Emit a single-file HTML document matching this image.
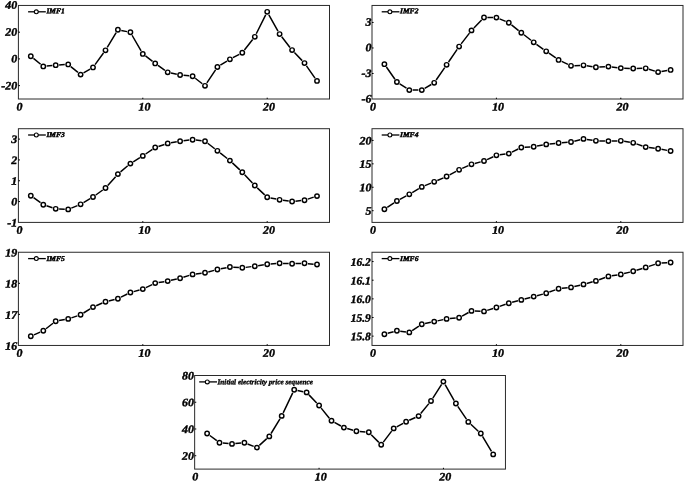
<!DOCTYPE html>
<html lang="en"><head><meta charset="utf-8"><title>IMF decomposition</title>
<style>html,body{margin:0;padding:0;background:#fff}svg{display:block}text{font-family:"Liberation Serif","DejaVu Serif",serif;font-weight:bold;font-style:italic;fill:#000;stroke:#000;stroke-width:.4px}.t{font-size:11.5px}.l{font-size:7.4px;stroke-width:.45px}.ax{fill:none;stroke:#2a2a2a;stroke-width:1}.tk{stroke:#000;stroke-width:1}.ln{fill:none;stroke:#000;stroke-width:1.5;stroke-linejoin:round}.mk{fill:#fff;stroke:#000;stroke-width:1.45}.lb{font-size:7.3px;stroke-width:.35px}.ll{stroke-width:1.3}.lm{stroke-width:1.1}</style></head><body>
<svg width="685" height="482" viewBox="0 0 685 482">
<rect width="685" height="482" fill="#fff"/>
<g>
<rect class="ax" x="18.40" y="5.45" width="311.10" height="93.55"/>
<text class="t" text-anchor="middle" transform="translate(19.40,110.40) rotate(0.03) scale(1.04,1)">0</text>
<line class="tk" x1="142.80" y1="99.00" x2="142.80" y2="97.70"/>
<text class="t" text-anchor="middle" transform="translate(144.50,110.40) rotate(0.03) scale(1.04,1)">10</text>
<line class="tk" x1="267.20" y1="99.00" x2="267.20" y2="97.70"/>
<text class="t" text-anchor="middle" transform="translate(268.90,110.40) rotate(0.03) scale(1.04,1)">20</text>
<text class="t" text-anchor="end" transform="translate(17.20,8.65) rotate(0.03) scale(1.04,1)">40</text>
<line class="tk" x1="18.40" y1="32.18" x2="20.00" y2="32.18"/>
<text class="t" text-anchor="end" transform="translate(17.20,35.64) rotate(0.03) scale(1.04,1)">20</text>
<line class="tk" x1="18.40" y1="58.91" x2="20.00" y2="58.91"/>
<text class="t" text-anchor="end" transform="translate(17.20,62.62) rotate(0.03) scale(1.04,1)">0</text>
<line class="tk" x1="18.40" y1="85.64" x2="20.00" y2="85.64"/>
<text class="t" text-anchor="end" transform="translate(17.20,89.61) rotate(0.03) scale(1.04,1)">-20</text>
<path class="ln" d="M33.47 58.36L40.65 64.24M46.66 66.07L52.34 65.53M59.11 64.98L64.77 64.62M70.79 66.56L77.97 72.44M83.54 72.90L90.10 69.10M95.04 64.65L103.48 53.05M107.24 47.39L116.16 32.71M121.25 30.47L127.03 31.63M132.06 35.25L141.10 50.95M145.50 55.96L152.54 61.34M158.01 65.38L164.91 70.32M171.00 73.02L176.80 74.28M183.50 75.33L189.18 75.87M195.25 78.28L202.31 83.72M206.88 82.96L215.56 69.84M220.33 65.21L226.99 61.09M232.88 57.71L239.32 54.29M244.42 50.02L252.66 39.48M256.27 33.76L265.69 14.84M268.86 14.77L277.98 31.13M281.73 36.78L289.99 47.42M294.43 52.56L302.17 60.64M306.47 65.89L315.01 78.11"/>
<circle class="mk" cx="30.8" cy="56.2" r="2.2"/>
<circle class="mk" cx="43.3" cy="66.4" r="2.2"/>
<circle class="mk" cx="55.7" cy="65.2" r="2.2"/>
<circle class="mk" cx="68.2" cy="64.4" r="2.2"/>
<circle class="mk" cx="80.6" cy="74.6" r="2.2"/>
<circle class="mk" cx="93.0" cy="67.4" r="2.2"/>
<circle class="mk" cx="105.5" cy="50.3" r="2.2"/>
<circle class="mk" cx="117.9" cy="29.8" r="2.2"/>
<circle class="mk" cx="130.4" cy="32.3" r="2.2"/>
<circle class="mk" cx="142.8" cy="53.9" r="2.2"/>
<circle class="mk" cx="155.2" cy="63.4" r="2.2"/>
<circle class="mk" cx="167.7" cy="72.3" r="2.2"/>
<circle class="mk" cx="180.1" cy="75.0" r="2.2"/>
<circle class="mk" cx="192.6" cy="76.2" r="2.2"/>
<circle class="mk" cx="205.0" cy="85.8" r="2.2"/>
<circle class="mk" cx="217.4" cy="67.0" r="2.2"/>
<circle class="mk" cx="229.9" cy="59.3" r="2.2"/>
<circle class="mk" cx="242.3" cy="52.7" r="2.2"/>
<circle class="mk" cx="254.8" cy="36.8" r="2.2"/>
<circle class="mk" cx="267.2" cy="11.8" r="2.2"/>
<circle class="mk" cx="279.6" cy="34.1" r="2.2"/>
<circle class="mk" cx="292.1" cy="50.1" r="2.2"/>
<circle class="mk" cx="304.5" cy="63.1" r="2.2"/>
<circle class="mk" cx="317.0" cy="80.9" r="2.2"/>
<line class="ln ll" x1="28.1" y1="11.8" x2="45.8" y2="11.8"/>
<circle class="mk lm" cx="36.3" cy="11.8" r="1.95"/>
<text class="l" transform="translate(46.4,13.2) rotate(0.03)" textLength="18.4" lengthAdjust="spacingAndGlyphs">IMF1</text>
</g>
<g>
<rect class="ax" x="372.00" y="5.45" width="311.00" height="93.55"/>
<text class="t" text-anchor="middle" transform="translate(373.00,110.40) rotate(0.03) scale(1.04,1)">0</text>
<line class="tk" x1="496.40" y1="99.00" x2="496.40" y2="97.70"/>
<text class="t" text-anchor="middle" transform="translate(498.10,110.40) rotate(0.03) scale(1.04,1)">10</text>
<line class="tk" x1="620.80" y1="99.00" x2="620.80" y2="97.70"/>
<text class="t" text-anchor="middle" transform="translate(622.50,110.40) rotate(0.03) scale(1.04,1)">20</text>
<line class="tk" x1="372.00" y1="22.46" x2="373.60" y2="22.46"/>
<text class="t" text-anchor="end" transform="translate(371.50,25.65) rotate(0.03) scale(1.04,1)">3</text>
<line class="tk" x1="372.00" y1="47.97" x2="373.60" y2="47.97"/>
<text class="t" text-anchor="end" transform="translate(371.50,51.30) rotate(0.03) scale(1.04,1)">0</text>
<line class="tk" x1="372.00" y1="73.49" x2="373.60" y2="73.49"/>
<text class="t" text-anchor="end" transform="translate(371.50,76.95) rotate(0.03) scale(1.04,1)">-3</text>
<text class="t" text-anchor="end" transform="translate(371.50,102.60) rotate(0.03) scale(1.04,1)">-6</text>
<path class="ln" d="M386.39 66.99L394.93 79.21M399.73 83.86L406.47 88.24M412.72 90.10L418.36 90.10M424.69 88.38L431.27 84.52M436.13 80.00L444.71 67.60M448.56 61.99L457.16 49.41M461.15 43.90L469.45 33.10M473.88 27.95L481.60 19.95M487.36 17.53L493.00 17.57M499.55 18.89L505.69 21.41M511.49 24.83L518.63 30.57M523.97 34.78L531.03 40.22M536.47 44.29L543.41 49.31M548.96 53.23L555.80 57.97M561.67 61.36L567.97 64.34M574.44 65.66L580.08 65.44M586.84 65.81L592.56 66.69M599.32 67.04L604.96 66.76M611.74 67.01L617.42 67.69M624.20 68.21L629.84 68.39M636.64 68.45L642.28 68.35M648.93 69.29L654.87 71.11M661.47 71.51L667.21 70.49"/>
<circle class="mk" cx="384.4" cy="64.2" r="2.2"/>
<circle class="mk" cx="396.9" cy="82.0" r="2.2"/>
<circle class="mk" cx="409.3" cy="90.1" r="2.2"/>
<circle class="mk" cx="421.8" cy="90.1" r="2.2"/>
<circle class="mk" cx="434.2" cy="82.8" r="2.2"/>
<circle class="mk" cx="446.6" cy="64.8" r="2.2"/>
<circle class="mk" cx="459.1" cy="46.6" r="2.2"/>
<circle class="mk" cx="471.5" cy="30.4" r="2.2"/>
<circle class="mk" cx="484.0" cy="17.5" r="2.2"/>
<circle class="mk" cx="496.4" cy="17.6" r="2.2"/>
<circle class="mk" cx="508.8" cy="22.7" r="2.2"/>
<circle class="mk" cx="521.3" cy="32.7" r="2.2"/>
<circle class="mk" cx="533.7" cy="42.3" r="2.2"/>
<circle class="mk" cx="546.2" cy="51.3" r="2.2"/>
<circle class="mk" cx="558.6" cy="59.9" r="2.2"/>
<circle class="mk" cx="571.0" cy="65.8" r="2.2"/>
<circle class="mk" cx="583.5" cy="65.3" r="2.2"/>
<circle class="mk" cx="595.9" cy="67.2" r="2.2"/>
<circle class="mk" cx="608.4" cy="66.6" r="2.2"/>
<circle class="mk" cx="620.8" cy="68.1" r="2.2"/>
<circle class="mk" cx="633.2" cy="68.5" r="2.2"/>
<circle class="mk" cx="645.7" cy="68.3" r="2.2"/>
<circle class="mk" cx="658.1" cy="72.1" r="2.2"/>
<circle class="mk" cx="670.6" cy="69.9" r="2.2"/>
<line class="ln ll" x1="381.7" y1="11.8" x2="399.4" y2="11.8"/>
<circle class="mk lm" cx="389.9" cy="11.8" r="1.95"/>
<text class="l" transform="translate(400.0,13.2) rotate(0.03)" textLength="18.4" lengthAdjust="spacingAndGlyphs">IMF2</text>
</g>
<g>
<rect class="ax" x="18.40" y="128.70" width="311.10" height="93.70"/>
<text class="t" text-anchor="middle" transform="translate(19.40,233.80) rotate(0.03) scale(1.04,1)">0</text>
<line class="tk" x1="142.80" y1="222.40" x2="142.80" y2="221.10"/>
<text class="t" text-anchor="middle" transform="translate(144.50,233.80) rotate(0.03) scale(1.04,1)">10</text>
<line class="tk" x1="267.20" y1="222.40" x2="267.20" y2="221.10"/>
<text class="t" text-anchor="middle" transform="translate(268.90,233.80) rotate(0.03) scale(1.04,1)">20</text>
<line class="tk" x1="18.40" y1="139.11" x2="20.00" y2="139.11"/>
<text class="t" text-anchor="end" transform="translate(17.20,143.11) rotate(0.03) scale(1.04,1)">3</text>
<line class="tk" x1="18.40" y1="159.93" x2="20.00" y2="159.93"/>
<text class="t" text-anchor="end" transform="translate(17.20,163.93) rotate(0.03) scale(1.04,1)">2</text>
<line class="tk" x1="18.40" y1="180.76" x2="20.00" y2="180.76"/>
<text class="t" text-anchor="end" transform="translate(17.20,184.76) rotate(0.03) scale(1.04,1)">1</text>
<line class="tk" x1="18.40" y1="201.58" x2="20.00" y2="201.58"/>
<text class="t" text-anchor="end" transform="translate(17.20,205.58) rotate(0.03) scale(1.04,1)">0</text>
<text class="t" text-anchor="end" transform="translate(17.20,226.40) rotate(0.03) scale(1.04,1)">-1</text>
<path class="ln" d="M33.59 197.69L40.53 202.71M46.51 205.76L52.49 207.74M59.12 208.96L64.76 209.24M71.31 208.11L77.45 205.59M83.53 202.58L90.11 198.72M95.79 195.01L102.73 189.99M107.75 185.47L115.65 176.63M120.52 171.91L127.76 165.79M133.25 161.81L139.91 157.69M145.62 154.00L152.42 149.40M158.47 146.44L164.45 144.46M171.03 142.81L176.77 141.79M183.50 140.79L189.18 140.11M195.94 140.11L201.62 140.79M207.69 143.28L214.75 148.72M220.11 152.90L227.21 158.50M232.37 162.92L239.83 169.88M244.64 174.68L252.44 183.02M257.24 187.83L264.72 194.87M270.53 197.90L276.31 199.10M283.01 200.26L288.71 201.04M295.46 201.15L301.14 200.55M307.75 199.14L313.73 197.16"/>
<circle class="mk" cx="30.8" cy="195.7" r="2.2"/>
<circle class="mk" cx="43.3" cy="204.7" r="2.2"/>
<circle class="mk" cx="55.7" cy="208.8" r="2.2"/>
<circle class="mk" cx="68.2" cy="209.4" r="2.2"/>
<circle class="mk" cx="80.6" cy="204.3" r="2.2"/>
<circle class="mk" cx="93.0" cy="197.0" r="2.2"/>
<circle class="mk" cx="105.5" cy="188.0" r="2.2"/>
<circle class="mk" cx="117.9" cy="174.1" r="2.2"/>
<circle class="mk" cx="130.4" cy="163.6" r="2.2"/>
<circle class="mk" cx="142.8" cy="155.9" r="2.2"/>
<circle class="mk" cx="155.2" cy="147.5" r="2.2"/>
<circle class="mk" cx="167.7" cy="143.4" r="2.2"/>
<circle class="mk" cx="180.1" cy="141.2" r="2.2"/>
<circle class="mk" cx="192.6" cy="139.7" r="2.2"/>
<circle class="mk" cx="205.0" cy="141.2" r="2.2"/>
<circle class="mk" cx="217.4" cy="150.8" r="2.2"/>
<circle class="mk" cx="229.9" cy="160.6" r="2.2"/>
<circle class="mk" cx="242.3" cy="172.2" r="2.2"/>
<circle class="mk" cx="254.8" cy="185.5" r="2.2"/>
<circle class="mk" cx="267.2" cy="197.2" r="2.2"/>
<circle class="mk" cx="279.6" cy="199.8" r="2.2"/>
<circle class="mk" cx="292.1" cy="201.5" r="2.2"/>
<circle class="mk" cx="304.5" cy="200.2" r="2.2"/>
<circle class="mk" cx="317.0" cy="196.1" r="2.2"/>
<line class="ln ll" x1="28.1" y1="135.0" x2="45.8" y2="135.0"/>
<circle class="mk lm" cx="36.3" cy="135.0" r="1.95"/>
<text class="l" transform="translate(46.4,137.1) rotate(0.03)" textLength="18.4" lengthAdjust="spacingAndGlyphs">IMF3</text>
</g>
<g>
<rect class="ax" x="372.00" y="128.70" width="311.00" height="93.70"/>
<text class="t" text-anchor="middle" transform="translate(373.00,233.80) rotate(0.03) scale(1.04,1)">0</text>
<line class="tk" x1="496.40" y1="222.40" x2="496.40" y2="221.10"/>
<text class="t" text-anchor="middle" transform="translate(498.10,233.80) rotate(0.03) scale(1.04,1)">10</text>
<line class="tk" x1="620.80" y1="222.40" x2="620.80" y2="221.10"/>
<text class="t" text-anchor="middle" transform="translate(622.50,233.80) rotate(0.03) scale(1.04,1)">20</text>
<line class="tk" x1="372.00" y1="140.41" x2="373.60" y2="140.41"/>
<text class="t" text-anchor="end" transform="translate(371.50,144.41) rotate(0.03) scale(1.04,1)">20</text>
<line class="tk" x1="372.00" y1="163.84" x2="373.60" y2="163.84"/>
<text class="t" text-anchor="end" transform="translate(371.50,167.84) rotate(0.03) scale(1.04,1)">15</text>
<line class="tk" x1="372.00" y1="187.26" x2="373.60" y2="187.26"/>
<text class="t" text-anchor="end" transform="translate(371.50,191.26) rotate(0.03) scale(1.04,1)">10</text>
<line class="tk" x1="372.00" y1="210.69" x2="373.60" y2="210.69"/>
<text class="t" text-anchor="end" transform="translate(371.50,214.69) rotate(0.03) scale(1.04,1)">5</text>
<path class="ln" d="M387.28 207.33L394.04 202.87M399.87 199.39L406.33 195.91M412.24 192.56L418.84 188.64M424.91 185.61L431.05 183.09M437.33 180.47L443.51 177.83M449.63 174.89L456.09 171.41M462.19 168.43L468.41 165.67M474.81 163.43L480.67 161.87M487.05 159.58L493.31 156.72M499.77 154.84L505.47 154.06M511.89 152.10L518.23 149.00M524.67 147.28L530.33 146.92M537.06 146.08L542.82 145.02M549.54 144.02L555.22 143.38M561.99 142.73L567.65 142.27M574.34 141.18L580.18 139.72M586.84 139.41L592.56 140.29M599.32 140.88L604.96 141.02M611.76 141.02L617.40 140.88M624.16 141.34L629.88 142.26M636.45 143.91L642.47 145.99M649.05 147.53L654.75 148.27M661.46 149.32L667.22 150.38"/>
<circle class="mk" cx="384.4" cy="209.2" r="2.2"/>
<circle class="mk" cx="396.9" cy="201.0" r="2.2"/>
<circle class="mk" cx="409.3" cy="194.3" r="2.2"/>
<circle class="mk" cx="421.8" cy="186.9" r="2.2"/>
<circle class="mk" cx="434.2" cy="181.8" r="2.2"/>
<circle class="mk" cx="446.6" cy="176.5" r="2.2"/>
<circle class="mk" cx="459.1" cy="169.8" r="2.2"/>
<circle class="mk" cx="471.5" cy="164.3" r="2.2"/>
<circle class="mk" cx="484.0" cy="161.0" r="2.2"/>
<circle class="mk" cx="496.4" cy="155.3" r="2.2"/>
<circle class="mk" cx="508.8" cy="153.6" r="2.2"/>
<circle class="mk" cx="521.3" cy="147.5" r="2.2"/>
<circle class="mk" cx="533.7" cy="146.7" r="2.2"/>
<circle class="mk" cx="546.2" cy="144.4" r="2.2"/>
<circle class="mk" cx="558.6" cy="143.0" r="2.2"/>
<circle class="mk" cx="571.0" cy="142.0" r="2.2"/>
<circle class="mk" cx="583.5" cy="138.9" r="2.2"/>
<circle class="mk" cx="595.9" cy="140.8" r="2.2"/>
<circle class="mk" cx="608.4" cy="141.1" r="2.2"/>
<circle class="mk" cx="620.8" cy="140.8" r="2.2"/>
<circle class="mk" cx="633.2" cy="142.8" r="2.2"/>
<circle class="mk" cx="645.7" cy="147.1" r="2.2"/>
<circle class="mk" cx="658.1" cy="148.7" r="2.2"/>
<circle class="mk" cx="670.6" cy="151.0" r="2.2"/>
<line class="ln ll" x1="381.7" y1="135.0" x2="399.4" y2="135.0"/>
<circle class="mk lm" cx="389.9" cy="135.0" r="1.95"/>
<text class="l" transform="translate(400.0,137.1) rotate(0.03)" textLength="18.4" lengthAdjust="spacingAndGlyphs">IMF4</text>
</g>
<g>
<rect class="ax" x="18.40" y="252.25" width="311.10" height="93.20"/>
<text class="t" text-anchor="middle" transform="translate(19.40,356.85) rotate(0.03) scale(1.04,1)">0</text>
<line class="tk" x1="142.80" y1="345.45" x2="142.80" y2="344.15"/>
<text class="t" text-anchor="middle" transform="translate(144.50,356.85) rotate(0.03) scale(1.04,1)">10</text>
<line class="tk" x1="267.20" y1="345.45" x2="267.20" y2="344.15"/>
<text class="t" text-anchor="middle" transform="translate(268.90,356.85) rotate(0.03) scale(1.04,1)">20</text>
<text class="t" text-anchor="end" transform="translate(17.10,256.55) rotate(0.03) scale(1.04,1)">19</text>
<line class="tk" x1="18.40" y1="283.32" x2="20.00" y2="283.32"/>
<text class="t" text-anchor="end" transform="translate(17.10,287.62) rotate(0.03) scale(1.04,1)">18</text>
<line class="tk" x1="18.40" y1="314.38" x2="20.00" y2="314.38"/>
<text class="t" text-anchor="end" transform="translate(17.10,318.68) rotate(0.03) scale(1.04,1)">17</text>
<text class="t" text-anchor="end" transform="translate(17.10,349.75) rotate(0.03) scale(1.04,1)">16</text>
<path class="ln" d="M33.95 334.93L40.17 332.17M45.97 328.72L53.03 323.28M59.06 320.58L64.82 319.52M71.39 317.84L77.37 315.86M83.49 313.01L90.15 308.89M96.16 305.75L102.36 303.05M108.79 300.90L114.61 299.50M120.96 297.18L127.32 294.02M133.64 291.60L139.52 290.00M145.86 287.62L152.18 284.58M158.60 282.56L164.32 281.64M170.99 280.33L176.81 278.97M183.37 277.21L189.31 275.39M195.93 273.97L201.63 273.23M208.29 271.93L214.15 270.37M220.77 268.83L226.55 267.67M233.27 267.22L238.93 267.58M245.69 267.37L251.39 266.63M258.12 265.69L263.84 264.81M270.59 264.03L276.25 263.57M283.04 263.41L288.68 263.59M295.48 263.59L301.12 263.41M307.90 263.63L313.58 264.17"/>
<circle class="mk" cx="30.8" cy="336.3" r="2.2"/>
<circle class="mk" cx="43.3" cy="330.8" r="2.2"/>
<circle class="mk" cx="55.7" cy="321.2" r="2.2"/>
<circle class="mk" cx="68.2" cy="318.9" r="2.2"/>
<circle class="mk" cx="80.6" cy="314.8" r="2.2"/>
<circle class="mk" cx="93.0" cy="307.1" r="2.2"/>
<circle class="mk" cx="105.5" cy="301.7" r="2.2"/>
<circle class="mk" cx="117.9" cy="298.7" r="2.2"/>
<circle class="mk" cx="130.4" cy="292.5" r="2.2"/>
<circle class="mk" cx="142.8" cy="289.1" r="2.2"/>
<circle class="mk" cx="155.2" cy="283.1" r="2.2"/>
<circle class="mk" cx="167.7" cy="281.1" r="2.2"/>
<circle class="mk" cx="180.1" cy="278.2" r="2.2"/>
<circle class="mk" cx="192.6" cy="274.4" r="2.2"/>
<circle class="mk" cx="205.0" cy="272.8" r="2.2"/>
<circle class="mk" cx="217.4" cy="269.5" r="2.2"/>
<circle class="mk" cx="229.9" cy="267.0" r="2.2"/>
<circle class="mk" cx="242.3" cy="267.8" r="2.2"/>
<circle class="mk" cx="254.8" cy="266.2" r="2.2"/>
<circle class="mk" cx="267.2" cy="264.3" r="2.2"/>
<circle class="mk" cx="279.6" cy="263.3" r="2.2"/>
<circle class="mk" cx="292.1" cy="263.7" r="2.2"/>
<circle class="mk" cx="304.5" cy="263.3" r="2.2"/>
<circle class="mk" cx="317.0" cy="264.5" r="2.2"/>
<line class="ln ll" x1="28.1" y1="258.6" x2="45.8" y2="258.6"/>
<circle class="mk lm" cx="36.3" cy="258.6" r="1.95"/>
<text class="l" transform="translate(46.4,260.9) rotate(0.03)" textLength="18.4" lengthAdjust="spacingAndGlyphs">IMF5</text>
</g>
<g>
<rect class="ax" x="372.00" y="252.25" width="311.00" height="93.20"/>
<text class="t" text-anchor="middle" transform="translate(373.00,356.85) rotate(0.03) scale(1.04,1)">0</text>
<line class="tk" x1="496.40" y1="345.45" x2="496.40" y2="344.15"/>
<text class="t" text-anchor="middle" transform="translate(498.10,356.85) rotate(0.03) scale(1.04,1)">10</text>
<line class="tk" x1="620.80" y1="345.45" x2="620.80" y2="344.15"/>
<text class="t" text-anchor="middle" transform="translate(622.50,356.85) rotate(0.03) scale(1.04,1)">20</text>
<line class="tk" x1="372.00" y1="261.57" x2="373.60" y2="261.57"/>
<text class="t" text-anchor="end" transform="translate(370.80,265.77) rotate(0.03) scale(1,1)">16.2</text>
<line class="tk" x1="372.00" y1="280.21" x2="373.60" y2="280.21"/>
<text class="t" text-anchor="end" transform="translate(370.80,284.41) rotate(0.03) scale(1,1)">16.1</text>
<line class="tk" x1="372.00" y1="298.85" x2="373.60" y2="298.85"/>
<text class="t" text-anchor="end" transform="translate(370.80,303.05) rotate(0.03) scale(1,1)">16.0</text>
<line class="tk" x1="372.00" y1="317.49" x2="373.60" y2="317.49"/>
<text class="t" text-anchor="end" transform="translate(370.80,321.69) rotate(0.03) scale(1,1)">15.9</text>
<line class="tk" x1="372.00" y1="336.13" x2="373.60" y2="336.13"/>
<text class="t" text-anchor="end" transform="translate(370.80,340.33) rotate(0.03) scale(1,1)">15.8</text>
<path class="ln" d="M387.72 333.30L393.60 331.70M400.25 331.23L405.95 331.97M412.16 330.53L418.92 326.07M425.09 323.50L430.87 322.30M437.52 320.88L443.32 319.62M450.02 318.57L455.70 318.03M462.06 316.07L468.54 312.53M474.92 311.04L480.56 311.26M487.20 310.38L493.16 308.52M499.61 306.39L505.63 304.31M512.13 302.33L517.99 300.77M524.57 299.03L530.43 297.47M537.00 295.70L542.88 294.10M549.36 292.04L555.40 289.86M561.98 288.35L567.66 287.75M574.35 286.60L580.17 285.20M586.75 283.48L592.65 281.82M599.12 279.74L605.16 277.56M611.72 275.86L617.44 274.94M624.10 273.58L629.94 272.12M636.48 270.28L642.44 268.42M648.91 266.34L654.89 264.36M661.51 263.08L667.17 262.72"/>
<circle class="mk" cx="384.4" cy="334.2" r="2.2"/>
<circle class="mk" cx="396.9" cy="330.8" r="2.2"/>
<circle class="mk" cx="409.3" cy="332.4" r="2.2"/>
<circle class="mk" cx="421.8" cy="324.2" r="2.2"/>
<circle class="mk" cx="434.2" cy="321.6" r="2.2"/>
<circle class="mk" cx="446.6" cy="318.9" r="2.2"/>
<circle class="mk" cx="459.1" cy="317.7" r="2.2"/>
<circle class="mk" cx="471.5" cy="310.9" r="2.2"/>
<circle class="mk" cx="484.0" cy="311.4" r="2.2"/>
<circle class="mk" cx="496.4" cy="307.5" r="2.2"/>
<circle class="mk" cx="508.8" cy="303.2" r="2.2"/>
<circle class="mk" cx="521.3" cy="299.9" r="2.2"/>
<circle class="mk" cx="533.7" cy="296.6" r="2.2"/>
<circle class="mk" cx="546.2" cy="293.2" r="2.2"/>
<circle class="mk" cx="558.6" cy="288.7" r="2.2"/>
<circle class="mk" cx="571.0" cy="287.4" r="2.2"/>
<circle class="mk" cx="583.5" cy="284.4" r="2.2"/>
<circle class="mk" cx="595.9" cy="280.9" r="2.2"/>
<circle class="mk" cx="608.4" cy="276.4" r="2.2"/>
<circle class="mk" cx="620.8" cy="274.4" r="2.2"/>
<circle class="mk" cx="633.2" cy="271.3" r="2.2"/>
<circle class="mk" cx="645.7" cy="267.4" r="2.2"/>
<circle class="mk" cx="658.1" cy="263.3" r="2.2"/>
<circle class="mk" cx="670.6" cy="262.5" r="2.2"/>
<line class="ln ll" x1="381.7" y1="258.6" x2="399.4" y2="258.6"/>
<circle class="mk lm" cx="389.9" cy="258.6" r="1.95"/>
<text class="l" transform="translate(400.0,260.9) rotate(0.03)" textLength="18.4" lengthAdjust="spacingAndGlyphs">IMF6</text>
</g>
<g>
<rect class="ax" x="194.65" y="375.50" width="310.80" height="93.60"/>
<text class="t" text-anchor="middle" transform="translate(195.15,480.50) rotate(0.03) scale(1.04,1)">0</text>
<line class="tk" x1="319.05" y1="469.10" x2="319.05" y2="467.80"/>
<text class="t" text-anchor="middle" transform="translate(320.75,480.50) rotate(0.03) scale(1.04,1)">10</text>
<line class="tk" x1="443.45" y1="469.10" x2="443.45" y2="467.80"/>
<text class="t" text-anchor="middle" transform="translate(445.15,480.50) rotate(0.03) scale(1.04,1)">20</text>
<text class="t" text-anchor="end" transform="translate(193.85,379.50) rotate(0.03) scale(1.04,1)">80</text>
<line class="tk" x1="194.65" y1="402.24" x2="196.25" y2="402.24"/>
<text class="t" text-anchor="end" transform="translate(193.85,406.24) rotate(0.03) scale(1.04,1)">60</text>
<line class="tk" x1="194.65" y1="428.99" x2="196.25" y2="428.99"/>
<text class="t" text-anchor="end" transform="translate(193.85,432.99) rotate(0.03) scale(1.04,1)">40</text>
<line class="tk" x1="194.65" y1="455.73" x2="196.25" y2="455.73"/>
<text class="t" text-anchor="end" transform="translate(193.85,459.73) rotate(0.03) scale(1.04,1)">20</text>
<path class="ln" d="M209.82 435.52L216.80 440.68M222.91 443.03L228.59 443.57M235.35 443.57L241.03 443.03M247.57 443.95L253.69 446.35M259.38 445.33L266.76 438.67M271.05 433.49L279.97 418.81M283.19 412.83L292.71 392.87M297.50 390.50L303.28 391.70M308.95 394.87L316.71 403.03M321.19 408.14L329.35 418.16M334.47 422.43L340.95 425.97M347.19 428.57L353.11 430.33M359.76 431.57L365.42 432.03M371.21 434.71L378.85 442.39M383.30 442.09L391.64 431.11M396.68 426.79L403.14 423.31M409.23 420.30L415.47 417.50M420.73 413.48L428.85 403.62M432.85 398.14L441.61 384.46M445.13 384.56L454.21 400.54M457.79 406.32L466.43 419.08M470.82 424.22L478.28 431.18M482.51 436.42L491.47 451.48"/>
<circle class="mk" cx="207.1" cy="433.5" r="2.2"/>
<circle class="mk" cx="219.5" cy="442.7" r="2.2"/>
<circle class="mk" cx="232.0" cy="443.9" r="2.2"/>
<circle class="mk" cx="244.4" cy="442.7" r="2.2"/>
<circle class="mk" cx="256.9" cy="447.6" r="2.2"/>
<circle class="mk" cx="269.3" cy="436.4" r="2.2"/>
<circle class="mk" cx="281.7" cy="415.9" r="2.2"/>
<circle class="mk" cx="294.2" cy="389.8" r="2.2"/>
<circle class="mk" cx="306.6" cy="392.4" r="2.2"/>
<circle class="mk" cx="319.1" cy="405.5" r="2.2"/>
<circle class="mk" cx="331.5" cy="420.8" r="2.2"/>
<circle class="mk" cx="343.9" cy="427.6" r="2.2"/>
<circle class="mk" cx="356.4" cy="431.3" r="2.2"/>
<circle class="mk" cx="368.8" cy="432.3" r="2.2"/>
<circle class="mk" cx="381.2" cy="444.8" r="2.2"/>
<circle class="mk" cx="393.7" cy="428.4" r="2.2"/>
<circle class="mk" cx="406.1" cy="421.7" r="2.2"/>
<circle class="mk" cx="418.6" cy="416.1" r="2.2"/>
<circle class="mk" cx="431.0" cy="401.0" r="2.2"/>
<circle class="mk" cx="443.4" cy="381.6" r="2.2"/>
<circle class="mk" cx="455.9" cy="403.5" r="2.2"/>
<circle class="mk" cx="468.3" cy="421.9" r="2.2"/>
<circle class="mk" cx="480.8" cy="433.5" r="2.2"/>
<circle class="mk" cx="493.2" cy="454.4" r="2.2"/>
<line class="ln ll" x1="199.2" y1="381.9" x2="217.0" y2="381.9"/>
<circle class="mk lm" cx="207.3" cy="381.9" r="1.95"/>
<text class="l lb" transform="translate(217.5,384.2) rotate(0.03)" textLength="95.4" lengthAdjust="spacingAndGlyphs">Initial electricity price sequence</text>
</g>
</svg></body></html>
